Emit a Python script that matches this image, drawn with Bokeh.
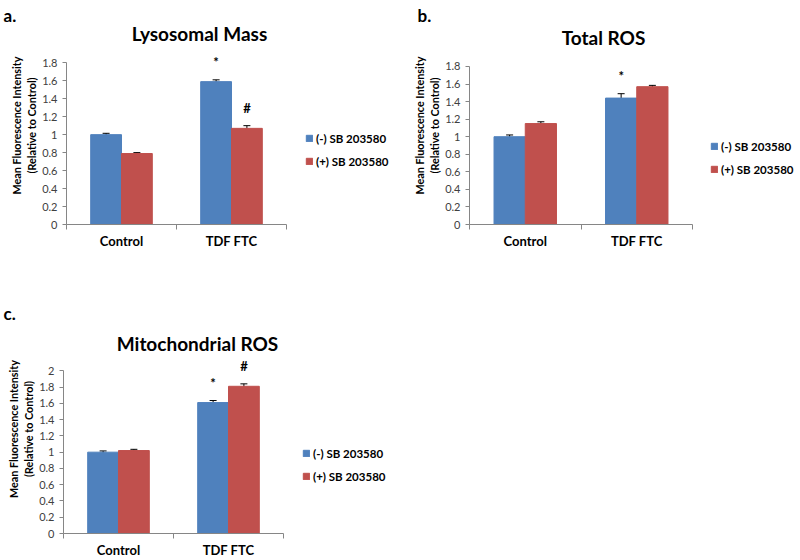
from bokeh.plotting import figure
from bokeh.models import (ColumnDataSource, Range1d, FixedTicker, NumeralTickFormatter,
                          Whisker, TeeHead, Legend, LegendItem, Label)
from bokeh.layouts import row, column
from bokeh.core.properties import value
from bokeh.embed import file_html
from bokeh.resources import INLINE

# ---------------- data ----------------
categories = ["Control", "TDF FTC"]
series = ["(-) SB 203580", "(+) SB 203580"]

# a. Lysosomal Mass
a_minus = [1.00, 1.59]
a_minus_err = [0.015, 0.02]
a_minus_marks = ["", "*"]
a_plus = [0.79, 1.07]
a_plus_err = [0.01, 0.03]
a_plus_marks = ["", "#"]
a_ticks = [0, 0.2, 0.4, 0.6, 0.8, 1.0, 1.2, 1.4, 1.6, 1.8]

# b. Total ROS
b_minus = [1.00, 1.44]
b_minus_err = [0.02, 0.05]
b_minus_marks = ["", "*"]
b_plus = [1.15, 1.57]
b_plus_err = [0.02, 0.015]
b_plus_marks = ["", ""]
b_ticks = [0, 0.2, 0.4, 0.6, 0.8, 1.0, 1.2, 1.4, 1.6, 1.8]

# c. Mitochondrial ROS
c_minus = [1.00, 1.61]
c_minus_err = [0.015, 0.025]
c_minus_marks = ["", "*"]
c_plus = [1.02, 1.81]
c_plus_err = [0.015, 0.03]
c_plus_marks = ["", "#"]
c_ticks = [0, 0.2, 0.4, 0.6, 0.8, 1.0, 1.2, 1.4, 1.6, 1.8, 2.0]

BLUE = "#4F81BD"
RED = "#C0504D"
FONT = "Lato"
AXIS_GRAY = "#868686"


def make_panel(letter, title, minus, minus_err, minus_marks, plus, plus_err, plus_marks,
               ticks, g):
    n = len(categories)
    centers = [i + 0.5 for i in range(n)]
    bw = 0.28
    ymax = ticks[-1]
    # frame spans from the y axis to the figure's right edge and up to the title row,
    # so that title and legend (drawn inside the frame) are not clipped
    fw = g["W"] - g["l"]
    fh = g["H"] - g["t"] - g["b"]
    x_end = n * fw / g["dw"]
    y_end = ymax * fh / g["dh"]
    p = figure(width=g["W"], height=g["H"],
               min_border_left=g["l"], min_border_right=0,
               min_border_top=g["t"], min_border_bottom=g["b"],
               x_range=Range1d(0, x_end), y_range=Range1d(0, y_end),
               output_backend="svg", toolbar_location=None)
    p.outline_line_color = None
    p.xgrid.visible = False
    p.ygrid.visible = False

    renderers = []
    for vals, errs, marks, color, sign in ((minus, minus_err, minus_marks, BLUE, -1),
                                           (plus, plus_err, plus_marks, RED, 1)):
        src = ColumnDataSource(dict(
            x=[c + sign * bw / 2 for c in centers],
            top=vals,
            upper=[v + e for v, e in zip(vals, errs)],
            lower=[v - e for v, e in zip(vals, errs)],
            marks=marks,
        ))
        r = p.vbar(x="x", top="top", width=bw, source=src, fill_color=color,
                   line_color=color, line_width=1)
        renderers.append(r)
        w = Whisker(source=src, base="x", upper="upper", lower="lower",
                    dimension="height", line_color="black", line_width=1,
                    upper_head=TeeHead(size=7, line_color="black", line_width=1),
                    lower_head=TeeHead(size=7, line_color="black", line_width=1))
        p.add_layout(w)
        p.text(x="x", y="upper", text="marks", source=src, text_align="center",
               text_baseline="bottom", y_offset=-10, text_font=value(FONT),
               text_font_style="bold", text_font_size="13px", text_color="black")

    ya = p.yaxis[0]
    ya.bounds = (0, ymax)
    ya.ticker = FixedTicker(ticks=ticks)
    ya.formatter = NumeralTickFormatter(format="0.[0]")
    ya.major_tick_out = 4
    ya.major_tick_in = 0
    ya.minor_tick_out = 0
    ya.minor_tick_in = 0
    ya.axis_line_color = AXIS_GRAY
    ya.major_tick_line_color = AXIS_GRAY
    ya.major_label_text_font = FONT
    ya.major_label_text_font_size = "11px"
    ya.major_label_text_color = "#404040"
    ya.major_label_standoff = 5
    ya.axis_label = "Mean Fluorescence Intensity\n(Relative to Control)"
    ya.axis_label_text_font = FONT
    ya.axis_label_text_font_size = "10.8px"
    ya.axis_label_text_font_style = "bold"
    ya.axis_label_text_color = "black"
    ya.axis_label_standoff = 1

    xa = p.xaxis[0]
    xa.bounds = (0, n)
    xa.ticker = FixedTicker(ticks=centers, minor_ticks=list(range(n + 1)))
    xa.major_label_overrides = {c: lab for c, lab in zip(centers, categories)}
    xa.major_tick_out = 0
    xa.major_tick_in = 0
    xa.minor_tick_out = 5
    xa.minor_tick_in = 0
    xa.axis_line_color = AXIS_GRAY
    xa.minor_tick_line_color = AXIS_GRAY
    xa.major_label_text_font = FONT
    xa.major_label_text_font_size = "13px"
    xa.major_label_text_font_style = "bold"
    xa.major_label_text_color = "black"
    xa.major_label_standoff = 3

    legend = Legend(items=[LegendItem(label=s, renderers=[r]) for s, r in zip(series, renderers)],
                    location=(g["legx"], g["legy"]), orientation="vertical",
                    glyph_width=8, glyph_height=8, label_standoff=3,
                    label_height=16, spacing=7, padding=0, margin=0,
                    border_line_color=None, background_fill_alpha=0,
                    label_text_font=FONT, label_text_font_size="11.5px",
                    label_text_font_style="bold", label_text_color="black")
    p.add_layout(legend)

    p.add_layout(Label(x=g["tx"], y=g["ty"], x_units="screen", y_units="screen",
                       text=title, text_align="center", text_baseline="middle",
                       text_font=FONT, text_font_size="19px", text_font_style="bold",
                       text_color="black"))

    # panel letter in the (thin) title row above the frame
    p.title.text = letter
    p.title.align = "left"
    p.title.offset = g["loff"]
    p.title.vertical_align = "middle"
    p.title.standoff = 0
    p.title.text_font = FONT
    p.title.text_font_size = "17px"
    p.title.text_font_style = "bold"
    p.title.text_color = "black"
    return p


fa = make_panel("a.", "Lysosomal Mass", a_minus, a_minus_err, a_minus_marks,
                a_plus, a_plus_err, a_plus_marks, a_ticks,
                dict(W=390, H=280, l=66, t=22, b=56, dw=220, dh=165,
                     legx=239, legy=55, tx=133, ty=191, loff=-63))
fb = make_panel("b.", "Total ROS", b_minus, b_minus_err, b_minus_marks,
                b_plus, b_plus_err, b_plus_marks, b_ticks,
                dict(W=410, H=280, l=79, t=26, b=51, dw=223, dh=162,
                     legx=241, legy=47, tx=134, ty=187, loff=-52))
fc = make_panel("c.", "Mitochondrial ROS", c_minus, c_minus_err, c_minus_marks,
                c_plus, c_plus_err, c_plus_marks, c_ticks,
                dict(W=400, H=280, l=63, t=44, b=24, dw=220, dh=165,
                     legx=239, legy=49, tx=134, ty=190, loff=-60))

layout = column(row(fa, fb), fc)

open("out.html", "w").write(file_html(layout, INLINE))
